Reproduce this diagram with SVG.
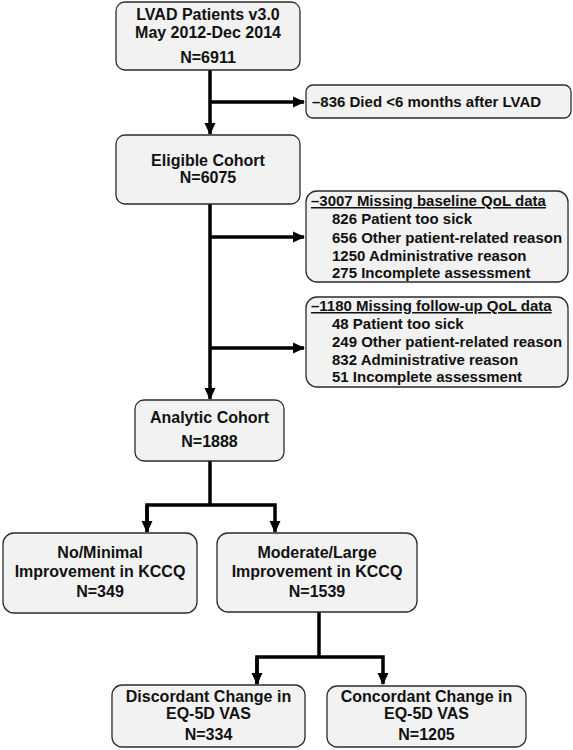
<svg xmlns="http://www.w3.org/2000/svg" width="573" height="750" viewBox="0 0 573 750">
  <style>
    .box { fill: #f2f2f2; stroke: #2b2b2b; stroke-width: 1.3; }
    .t { font-family: Arial, "Liberation Sans", sans-serif; font-weight: bold; font-size: 16px; fill: #111; text-anchor: middle; }
    .s { font-family: Arial, "Liberation Sans", sans-serif; font-weight: bold; font-size: 15px; fill: #111; }
    .c { fill: none; stroke: #000; stroke-width: 3.5; }
  </style>
  <defs>
    <marker id="ah" markerUnits="userSpaceOnUse" markerWidth="12" markerHeight="12" viewBox="0 0 12 12" refX="11" refY="6" orient="auto">
      <path d="M0,0.5 L12,6 L0,11.5 Z" fill="#000"/>
    </marker>
  </defs>
  <rect width="573" height="750" fill="#fff"/>

  <g id="connectors">
    <line class="c" x1="210" y1="70" x2="210" y2="134" marker-end="url(#ah)"/>
    <line class="c" x1="210" y1="102" x2="304" y2="102" marker-end="url(#ah)"/>
    <line class="c" x1="210" y1="204" x2="210" y2="399" marker-end="url(#ah)"/>
    <line class="c" x1="210" y1="237" x2="304" y2="237" marker-end="url(#ah)"/>
    <line class="c" x1="210" y1="348" x2="304" y2="348" marker-end="url(#ah)"/>
    <path class="c" d="M210,461 V505"/>
    <path class="c" d="M147,532 V505 H275 V532" marker-end="url(#ah)"/>
    <path class="c" d="M147,505 V532" marker-end="url(#ah)"/>
    <path class="c" d="M319,612 V657"/>
    <path class="c" d="M257,684 V657 H383 V684" marker-end="url(#ah)"/>
    <path class="c" d="M257,657 V684" marker-end="url(#ah)"/>
  </g>

  <g id="lvad" font-size="16">
    <rect class="box" x="116" y="2" width="184" height="68" rx="9"/>
    <text class="t" x="208" y="20" font-size="16">LVAD Patients v3.0</text>
    <text class="t" x="208" y="38" font-size="16">May 2012-Dec 2014</text>
    <text class="t" x="208" y="63" font-size="16">N=6911</text>
  </g>

  <g id="died">
    <rect class="box" x="306" y="85" width="265" height="33" rx="7"/>
    <text class="s" x="312" y="107" font-size="15">–836 Died &lt;6 months after LVAD</text>
  </g>

  <g id="eligible">
    <rect class="box" x="116" y="135" width="184" height="69" rx="9"/>
    <text class="t" x="208" y="166" font-size="16">Eligible Cohort</text>
    <text class="t" x="208" y="183" font-size="16">N=6075</text>
  </g>

  <g id="baseline">
    <rect class="box" x="306" y="191" width="262" height="91" rx="11"/>
    <text class="s" x="311" y="206" font-size="15" text-decoration="underline">–3007 Missing baseline QoL data</text>
    <text class="s" x="332" y="224" font-size="15">826 Patient too sick</text>
    <text class="s" x="332" y="243" font-size="15">656 Other patient-related reason</text>
    <text class="s" x="332" y="261" font-size="15">1250 Administrative reason</text>
    <text class="s" x="332" y="278" font-size="15">275 Incomplete assessment</text>
  </g>

  <g id="followup">
    <rect class="box" x="306" y="297" width="262" height="90" rx="11"/>
    <text class="s" x="311" y="311" font-size="15" text-decoration="underline">–1180 Missing follow-up QoL data</text>
    <text class="s" x="332" y="329" font-size="15">48 Patient too sick</text>
    <text class="s" x="332" y="347" font-size="15">249 Other patient-related reason</text>
    <text class="s" x="332" y="365" font-size="15">832 Administrative reason</text>
    <text class="s" x="332" y="382" font-size="15">51 Incomplete assessment</text>
  </g>

  <g id="analytic">
    <rect class="box" x="135" y="400" width="149" height="61" rx="9"/>
    <text class="t" x="209.5" y="423" font-size="16">Analytic Cohort</text>
    <text class="t" x="209.5" y="447" font-size="16">N=1888</text>
  </g>

  <g id="nominimal">
    <rect class="box" x="3" y="533" width="194" height="80" rx="11"/>
    <text class="t" x="100" y="558" font-size="16">No/Minimal</text>
    <text class="t" x="100" y="577" font-size="16">Improvement in KCCQ</text>
    <text class="t" x="100" y="597" font-size="16">N=349</text>
  </g>

  <g id="moderate">
    <rect class="box" x="217" y="533" width="200" height="79" rx="11"/>
    <text class="t" x="317" y="558" font-size="16">Moderate/Large</text>
    <text class="t" x="317" y="577" font-size="16">Improvement in KCCQ</text>
    <text class="t" x="317" y="597" font-size="16">N=1539</text>
  </g>

  <g id="discordant">
    <rect class="box" x="112" y="685" width="193" height="62" rx="10"/>
    <text class="t" x="208.5" y="702" font-size="16">Discordant Change in</text>
    <text class="t" x="208.5" y="719" font-size="16">EQ-5D VAS</text>
    <text class="t" x="208.5" y="740" font-size="16">N=334</text>
  </g>

  <g id="concordant">
    <rect class="box" x="327" y="686" width="199" height="61" rx="10"/>
    <text class="t" x="426.5" y="702" font-size="16">Concordant Change in</text>
    <text class="t" x="426.5" y="719" font-size="16">EQ-5D VAS</text>
    <text class="t" x="426.5" y="740" font-size="16">N=1205</text>
  </g>
</svg>
